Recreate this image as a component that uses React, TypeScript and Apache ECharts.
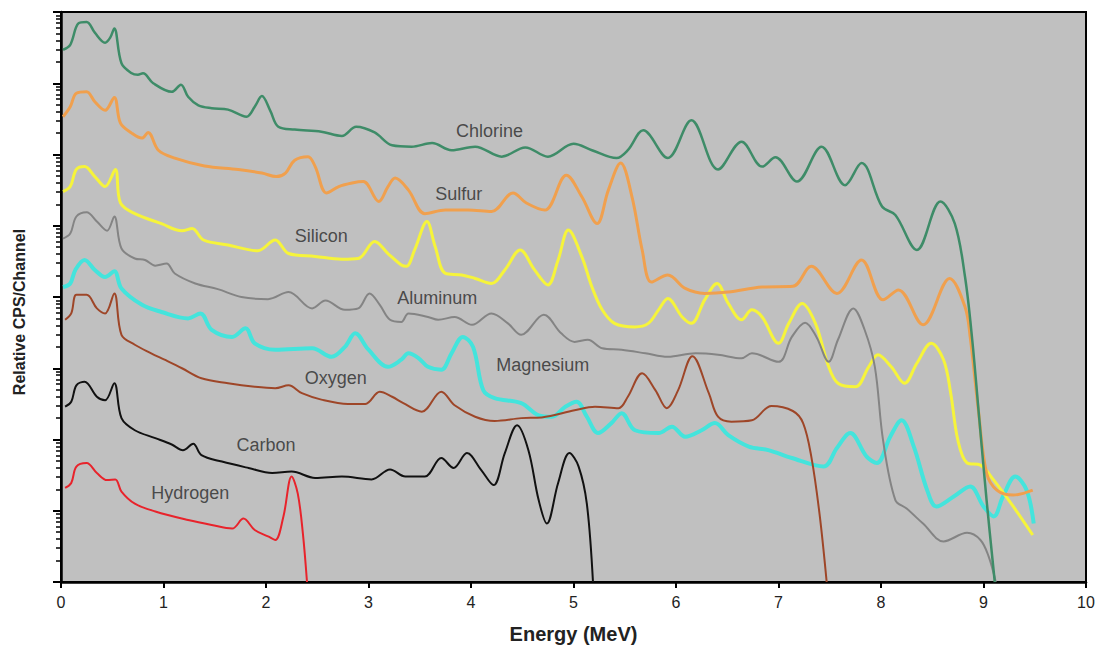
import React, { useEffect, useRef } from "react";
import * as echarts from "echarts";

// Energy (MeV) vs log10(relative CPS/channel)
const chlorine: [number, number][] = [
  [0.02, 7.47], [0.09, 7.54], [0.17, 7.84], [0.25, 7.86], [0.33, 7.71], [0.43, 7.57], [0.48, 7.64], [0.52, 7.77],
  [0.59, 7.28], [0.69, 7.14], [0.75, 7.12], [0.8, 7.14], [0.9, 7.0], [1.08, 6.88], [1.17, 6.98], [1.24, 6.81],
  [1.34, 6.69], [1.47, 6.65], [1.63, 6.63], [1.81, 6.53], [1.89, 6.67], [1.96, 6.82], [2.04, 6.62], [2.12, 6.39],
  [2.28, 6.35], [2.54, 6.32], [2.74, 6.26], [2.88, 6.39], [3.06, 6.31], [3.23, 6.13], [3.42, 6.11], [3.62, 6.16],
  [3.81, 6.06], [4.04, 6.11], [4.3, 5.97], [4.53, 6.1], [4.75, 5.97], [5.0, 6.15], [5.18, 6.06], [5.42, 5.95],
  [5.53, 6.06], [5.68, 6.34], [5.92, 5.95], [6.15, 6.48], [6.41, 5.79], [6.64, 6.18], [6.84, 5.83], [6.97, 5.96],
  [7.18, 5.62], [7.42, 6.11], [7.65, 5.57], [7.81, 5.88], [8.01, 5.27], [8.14, 5.15], [8.35, 4.66], [8.58, 5.34],
  [8.72, 5.03], [8.82, 4.28], [8.89, 3.4], [8.96, 2.27], [9.03, 1.15], [9.11, 0],
];

const sulfur: [number, number][] = [
  [0.02, 6.53], [0.09, 6.67], [0.15, 6.86], [0.25, 6.88], [0.33, 6.74], [0.43, 6.62], [0.52, 6.8], [0.58, 6.44],
  [0.69, 6.3], [0.79, 6.23], [0.85, 6.31], [0.95, 6.06], [1.11, 5.95], [1.4, 5.84], [1.73, 5.79], [1.96, 5.74],
  [2.1, 5.69], [2.19, 5.74], [2.28, 5.92], [2.41, 5.97], [2.48, 5.83], [2.59, 5.46], [2.71, 5.55], [2.84, 5.6],
  [2.95, 5.62], [3.1, 5.34], [3.19, 5.55], [3.26, 5.67], [3.39, 5.5], [3.55, 5.17], [3.75, 5.22], [3.97, 5.22],
  [4.2, 5.2], [4.41, 5.46], [4.54, 5.32], [4.72, 5.22], [4.93, 5.71], [5.08, 5.41], [5.23, 5.03], [5.34, 5.5],
  [5.46, 5.88], [5.57, 5.41], [5.67, 4.66], [5.76, 4.21], [5.92, 4.31], [6.09, 4.12], [6.28, 4.05], [6.51, 4.07],
  [6.84, 4.14], [7.14, 4.15], [7.32, 4.43], [7.57, 4.05], [7.81, 4.52], [8.02, 3.96], [8.17, 4.1], [8.41, 3.61],
  [8.67, 4.26], [8.82, 3.86], [8.87, 3.44], [8.95, 2.41], [9.03, 1.53], [9.13, 1.29], [9.29, 1.22], [9.48, 1.29],
];

const silicon: [number, number][] = [
  [0.02, 5.48], [0.09, 5.55], [0.15, 5.79], [0.23, 5.83], [0.33, 5.69], [0.43, 5.55], [0.53, 5.79], [0.58, 5.32],
  [0.72, 5.17], [0.98, 5.03], [1.18, 4.93], [1.28, 4.96], [1.39, 4.8], [1.63, 4.73], [1.92, 4.65], [2.09, 4.8],
  [2.22, 4.61], [2.48, 4.57], [2.74, 4.53], [2.9, 4.54], [3.06, 4.78], [3.19, 4.61], [3.32, 4.45], [3.37, 4.43],
  [3.45, 4.66], [3.57, 5.06], [3.65, 4.71], [3.75, 4.33], [3.91, 4.31], [4.04, 4.26], [4.2, 4.19], [4.33, 4.38],
  [4.48, 4.66], [4.62, 4.38], [4.75, 4.17], [4.85, 4.52], [4.95, 4.94], [5.08, 4.57], [5.18, 4.14], [5.28, 3.82],
  [5.4, 3.63], [5.6, 3.58], [5.73, 3.63], [5.83, 3.82], [5.92, 3.98], [6.06, 3.72], [6.15, 3.63], [6.28, 3.96],
  [6.4, 4.19], [6.51, 3.91], [6.64, 3.68], [6.74, 3.82], [6.84, 3.72], [7.0, 3.35], [7.1, 3.63], [7.23, 3.91],
  [7.36, 3.63], [7.49, 3.02], [7.58, 2.79], [7.75, 2.74], [7.88, 3.02], [7.97, 3.19], [8.1, 3.02], [8.23, 2.79],
  [8.35, 3.07], [8.49, 3.35], [8.61, 3.12], [8.68, 2.65], [8.75, 1.99], [8.84, 1.67], [8.97, 1.64], [9.1, 1.43],
  [9.29, 1.06], [9.48, 0.66],
];

const aluminum: [number, number][] = [
  [0.02, 4.82], [0.09, 4.89], [0.15, 5.13], [0.25, 5.19], [0.35, 5.06], [0.45, 4.93], [0.52, 5.13], [0.59, 4.68],
  [0.72, 4.54], [0.82, 4.52], [0.92, 4.44], [1.03, 4.47], [1.11, 4.33], [1.31, 4.19], [1.53, 4.11], [1.76, 4.0],
  [2.02, 3.97], [2.22, 4.07], [2.45, 3.84], [2.58, 3.95], [2.77, 3.82], [2.9, 3.84], [3.01, 4.05], [3.11, 3.89],
  [3.21, 3.68], [3.32, 3.65], [3.39, 3.77], [3.58, 3.72], [3.68, 3.68], [3.84, 3.72], [4.01, 3.61], [4.2, 3.77],
  [4.36, 3.63], [4.49, 3.47], [4.71, 3.75], [4.88, 3.49], [5.01, 3.37], [5.14, 3.4], [5.28, 3.28], [5.47, 3.26],
  [5.7, 3.21], [5.92, 3.16], [6.19, 3.21], [6.41, 3.19], [6.64, 3.14], [6.74, 3.21], [7.0, 3.09], [7.13, 3.44],
  [7.26, 3.64], [7.37, 3.44], [7.49, 3.09], [7.58, 3.4], [7.73, 3.84], [7.84, 3.54], [7.94, 3.02], [8.02, 1.99],
  [8.14, 1.15], [8.25, 1.03], [8.41, 0.82], [8.61, 0.57], [8.84, 0.69], [8.97, 0.59], [9.05, 0.36], [9.12, 0],
];

const magnesium: [number, number][] = [
  [0.02, 4.14], [0.09, 4.19], [0.14, 4.38], [0.23, 4.52], [0.33, 4.38], [0.43, 4.28], [0.52, 4.36], [0.59, 4.12],
  [0.79, 3.89], [0.98, 3.79], [1.24, 3.7], [1.36, 3.77], [1.47, 3.54], [1.67, 3.44], [1.8, 3.56], [1.89, 3.35],
  [2.09, 3.26], [2.45, 3.28], [2.64, 3.16], [2.77, 3.3], [2.87, 3.49], [3.0, 3.26], [3.19, 3.02], [3.32, 3.12],
  [3.39, 3.21], [3.49, 3.14], [3.58, 3.02], [3.71, 2.98], [3.81, 3.21], [3.92, 3.44], [4.02, 3.3], [4.12, 2.69],
  [4.23, 2.58], [4.49, 2.51], [4.66, 2.34], [4.79, 2.32], [4.92, 2.46], [5.03, 2.53], [5.13, 2.32], [5.24, 2.09],
  [5.37, 2.23], [5.47, 2.37], [5.6, 2.13], [5.83, 2.09], [5.96, 2.18], [6.09, 2.04], [6.25, 2.13], [6.38, 2.23],
  [6.51, 2.06], [6.71, 1.9], [6.9, 1.85], [7.13, 1.74], [7.44, 1.62], [7.57, 1.88], [7.7, 2.09], [7.86, 1.76],
  [7.96, 1.67], [8.09, 2.04], [8.2, 2.27], [8.32, 1.9], [8.45, 1.29], [8.54, 1.06], [8.71, 1.2], [8.87, 1.34],
  [9.0, 1.06], [9.1, 0.92], [9.19, 1.2], [9.31, 1.48], [9.42, 1.29], [9.49, 0.82],
];

const oxygen: [number, number][] = [
  [0.04, 3.68], [0.1, 3.77], [0.15, 4.03], [0.25, 4.03], [0.35, 3.84], [0.43, 3.77], [0.52, 4.05], [0.59, 3.47],
  [0.72, 3.33], [0.88, 3.21], [1.01, 3.12], [1.18, 3.0], [1.37, 2.86], [1.63, 2.79], [1.89, 2.74], [2.09, 2.72],
  [2.22, 2.76], [2.35, 2.65], [2.54, 2.56], [2.8, 2.5], [2.97, 2.5], [3.11, 2.67], [3.23, 2.6], [3.34, 2.51],
  [3.52, 2.39], [3.71, 2.67], [3.84, 2.48], [4.04, 2.32], [4.23, 2.26], [4.49, 2.3], [4.69, 2.31], [5.01, 2.41],
  [5.21, 2.46], [5.44, 2.44], [5.53, 2.6], [5.67, 2.93], [5.8, 2.69], [5.91, 2.44], [6.02, 2.69], [6.16, 3.17],
  [6.32, 2.65], [6.41, 2.32], [6.54, 2.25], [6.74, 2.27], [6.93, 2.47], [7.14, 2.4], [7.24, 2.23], [7.32, 1.76],
  [7.4, 0.96], [7.47, 0],
];

const carbon: [number, number][] = [
  [0.04, 2.46], [0.1, 2.53], [0.15, 2.76], [0.23, 2.81], [0.35, 2.6], [0.43, 2.55], [0.52, 2.79], [0.59, 2.3],
  [0.72, 2.13], [0.92, 2.02], [1.08, 1.93], [1.19, 1.85], [1.29, 1.94], [1.37, 1.78], [1.57, 1.69], [1.83, 1.6],
  [2.06, 1.53], [2.25, 1.55], [2.48, 1.46], [2.74, 1.48], [3.03, 1.44], [3.21, 1.58], [3.36, 1.48], [3.55, 1.48],
  [3.71, 1.74], [3.83, 1.6], [3.96, 1.81], [4.1, 1.57], [4.22, 1.36], [4.33, 1.81], [4.45, 2.2], [4.56, 1.85],
  [4.66, 1.15], [4.74, 0.82], [4.85, 1.39], [4.96, 1.81], [5.05, 1.62], [5.13, 1.1], [5.19, 0],
];

const hydrogen: [number, number][] = [
  [0.04, 1.32], [0.1, 1.39], [0.15, 1.62], [0.25, 1.67], [0.35, 1.53], [0.45, 1.43], [0.53, 1.44], [0.59, 1.27],
  [0.72, 1.1], [0.92, 0.99], [1.24, 0.87], [1.47, 0.8], [1.67, 0.75], [1.78, 0.89], [1.89, 0.73], [2.02, 0.64],
  [2.09, 0.59], [2.17, 0.92], [2.25, 1.48], [2.31, 1.24], [2.36, 0.68], [2.4, 0],
];

const seriesNames = ["Magnesium", "Silicon", "Sulfur", "Aluminum", "Oxygen", "Carbon", "Hydrogen", "Chlorine"];
const seriesData = [magnesium, silicon, sulfur, aluminum, oxygen, carbon, hydrogen, chlorine];
const seriesColors = ["#44e4dc", "#f6f43a", "#f0a04e", "#848484", "#9e4628", "#111111", "#e8232b", "#3e8c68"];
const seriesWidths = [4, 3, 3, 2, 2, 2, 2, 2.5];

// label anchor positions (Energy, log10 CPS)
const labelNames = ["Chlorine", "Sulfur", "Silicon", "Aluminum", "Magnesium", "Oxygen", "Carbon", "Hydrogen"];
const labelX = [4.18, 3.88, 2.54, 3.67, 4.7, 2.68, 2.0, 1.26];
const labelY = [6.33, 5.45, 4.86, 3.99, 3.05, 2.86, 1.92, 1.25];

const decades = [0, 1, 2, 3, 4, 5, 6, 7];
const minorMultipliers = [2, 3, 4, 5, 6, 7, 8, 9];

const FONT = 'Arial, "Liberation Sans", Helvetica, sans-serif';

export default function App() {
  const ref = useRef<HTMLDivElement>(null);
  useEffect(() => {
    if (!ref.current) return;
    const chart = echarts.init(ref.current, undefined, { renderer: "svg" });
    const minorTicks: number[] = [];
    decades.forEach((d) => minorMultipliers.forEach((m) => minorTicks.push(d + Math.log10(m))));

    const lineSeries = seriesNames.map((name, i) => ({
      name,
      type: "line",
      data: seriesData[i],
      showSymbol: false,
      symbol: "none",
      smooth: 0.35,
      clip: true,
      lineStyle: { color: seriesColors[i], width: seriesWidths[i] },
      z: 2 + i,
    }));

    chart.setOption({
      animation: false,
      backgroundColor: "#ffffff",
      grid: {
        left: 61,
        right: 19,
        top: 12,
        bottom: 71,
        show: true,
        backgroundColor: "#c0c0c0",
        borderColor: "#000",
        borderWidth: 2,
      },
      xAxis: {
        type: "value",
        min: 0,
        max: 10,
        interval: 1,
        name: "Energy (MeV)",
        nameLocation: "middle",
        nameGap: 42,
        nameTextStyle: { fontFamily: FONT, fontSize: 20, fontWeight: "bold", color: "#222" },
        axisLine: { show: true, lineStyle: { color: "#000", width: 2.5 } },
        axisTick: { show: true, inside: false, length: 6, lineStyle: { color: "#000", width: 2 } },
        axisLabel: { fontFamily: FONT, fontSize: 16, color: "#222", margin: 12 },
        splitLine: { show: false },
      },
      yAxis: [
        {
          type: "value",
          min: 0,
          max: 8,
          interval: 1,
          name: "Relative CPS/Channel",
          nameLocation: "middle",
          nameGap: 34,
          nameRotate: 90,
          nameTextStyle: { fontFamily: FONT, fontSize: 16, fontWeight: "bold", color: "#222", padding: [0, 0, 0, -30] },
          axisLine: { show: true, lineStyle: { color: "#000", width: 2.5 } },
          axisTick: { show: true, inside: false, length: 8, lineStyle: { color: "#000", width: 2 } },
          axisLabel: { show: false },
          splitLine: { show: false },
        },
        {
          type: "value",
          min: 0,
          max: 8,
          position: "left",
          axisLine: { show: false },
          axisTick: { show: true, inside: false, length: 5, customValues: minorTicks, lineStyle: { color: "#000", width: 1.5 } },
          axisLabel: { show: false },
          splitLine: { show: false },
        },
      ],
      series: [
        ...lineSeries,
        {
          type: "scatter",
          symbolSize: 0,
          z: 20,
          silent: true,
          data: labelNames.map((n, i) => ({ name: n, value: [labelX[i], labelY[i]] })),
          label: {
            show: true,
            position: "inside",
            formatter: (p: any) => p.name,
            fontFamily: FONT,
            fontSize: 18,
            color: "#2a2a2a",
          },
        },
      ],
    });
    return () => chart.dispose();
  }, []);
  return <div ref={ref} style={{ position: "fixed", left: 0, top: 0, width: 1105, height: 653 }} />;
}
